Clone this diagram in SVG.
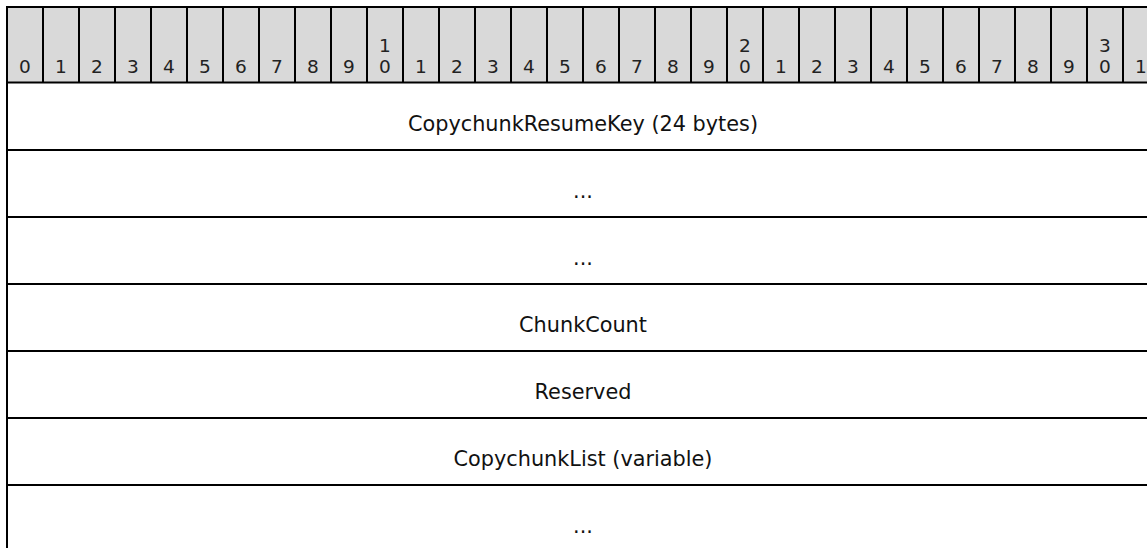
<svg xmlns="http://www.w3.org/2000/svg" width="1147" height="548" viewBox="0 0 1147 548">
<style>
.ln{stroke:#000;stroke-width:2;fill:none}
.hd{font-family:"DejaVu Sans","Liberation Sans",sans-serif;font-size:18.5px;fill:#222;text-anchor:middle}
.fd{font-family:"DejaVu Sans","Liberation Sans",sans-serif;font-size:20.8px;fill:#111;text-anchor:middle}
</style>
<rect x="0" y="0" width="1147" height="548" fill="#fff"/>
<g id="header">
<rect x="7" y="7" width="1152" height="75.5" fill="#d9d9d9"/>
<g class="ln">
<path d="M6 7H1159M7 7V548M43 7V82.5M79 7V82.5M115 7V82.5M151 7V82.5M187 7V82.5M223 7V82.5M259 7V82.5M295 7V82.5M331 7V82.5M367 7V82.5M403 7V82.5M439 7V82.5M475 7V82.5M511 7V82.5M547 7V82.5M583 7V82.5M619 7V82.5M655 7V82.5M691 7V82.5M727 7V82.5M763 7V82.5M799 7V82.5M835 7V82.5M871 7V82.5M907 7V82.5M943 7V82.5M979 7V82.5M1015 7V82.5M1051 7V82.5M1087 7V82.5M1123 7V82.5"/>
</g>
<g class="hd">
<text x="25" y="72.7">0</text><text x="61" y="72.7">1</text><text x="97" y="72.7">2</text><text x="133" y="72.7">3</text><text x="169" y="72.7">4</text><text x="205" y="72.7">5</text><text x="241" y="72.7">6</text><text x="277" y="72.7">7</text><text x="313" y="72.7">8</text><text x="349" y="72.7">9</text>
<text x="385" y="51.7">1</text><text x="385" y="72.7">0</text>
<text x="421" y="72.7">1</text><text x="457" y="72.7">2</text><text x="493" y="72.7">3</text><text x="529" y="72.7">4</text><text x="565" y="72.7">5</text><text x="601" y="72.7">6</text><text x="637" y="72.7">7</text><text x="673" y="72.7">8</text><text x="709" y="72.7">9</text>
<text x="745" y="51.7">2</text><text x="745" y="72.7">0</text>
<text x="781" y="72.7">1</text><text x="817" y="72.7">2</text><text x="853" y="72.7">3</text><text x="889" y="72.7">4</text><text x="925" y="72.7">5</text><text x="961" y="72.7">6</text><text x="997" y="72.7">7</text><text x="1033" y="72.7">8</text><text x="1069" y="72.7">9</text>
<text x="1105" y="51.7">3</text><text x="1105" y="72.7">0</text>
<text x="1141" y="72.7">1</text>
</g>
</g>
<g id="connectors" class="ln">
<path d="M6 82.5H1159M6 150H1159M6 217H1159M6 284H1159M6 351H1159M6 418H1159M6 485H1159"/>
</g>
<g id="f1"><text class="fd" x="583" y="131">CopychunkResumeKey (24 bytes)</text></g>
<g id="f2"><text class="fd" x="583" y="198">...</text></g>
<g id="f3"><text class="fd" x="583" y="265">...</text></g>
<g id="f4"><text class="fd" x="583" y="332">ChunkCount</text></g>
<g id="f5"><text class="fd" x="583" y="399">Reserved</text></g>
<g id="f6"><text class="fd" x="583" y="466">CopychunkList (variable)</text></g>
<g id="f7"><text class="fd" x="583" y="533">...</text></g>
</svg>
